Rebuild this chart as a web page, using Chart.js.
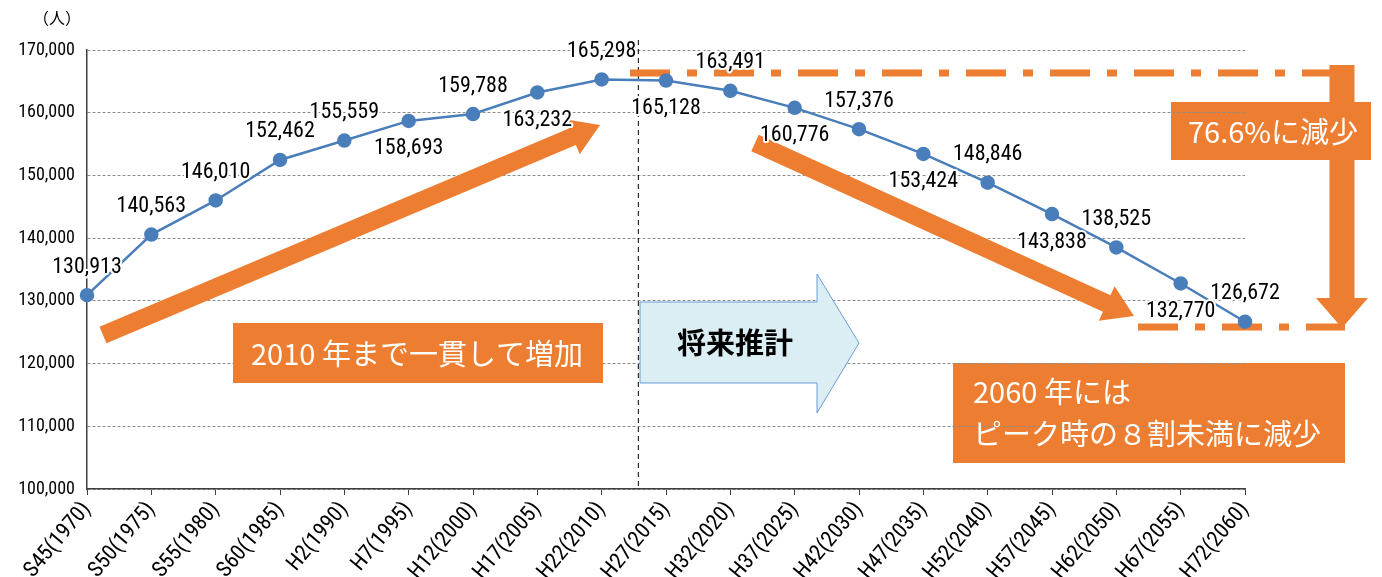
<!DOCTYPE html>
<html>
<head>
<meta charset="utf-8">
<script src="https://cdn.jsdelivr.net/npm/chart.js@4.4.0/dist/chart.umd.min.js"></script>
<style>
  html, body { margin: 0; padding: 0; background: #fff; }
  #wrap { width: 1382px; height: 577px; }
</style>
</head>
<body>
<div id="wrap"><canvas id="populationChart" width="1382" height="577"></canvas></div>
<script>
// Population trend and projection

const categories = [
  'S45(1970)', 'S50(1975)', 'S55(1980)', 'S60(1985)', 'H2(1990)', 'H7(1995)',
  'H12(2000)', 'H17(2005)', 'H22(2010)', 'H27(2015)', 'H32(2020)', 'H37(2025)',
  'H42(2030)', 'H47(2035)', 'H52(2040)', 'H57(2045)', 'H62(2050)', 'H67(2055)', 'H72(2060)'
];
const population = [
  130913, 140563, 146010, 152462, 155559, 158693,
  159788, 163232, 165298, 165128, 163491, 160776,
  157376, 153424, 148846, 143838, 138525, 132770, 126672
];
// where each value label sits: 1 = above the point, -1 = below
const labelSide = [1, 1, 1, 1, 1, -1, 1, -1, 1, -1, 1, -1, 1, -1, 1, -1, 1, -1, 1];
const yMin = 100000;
const yMax = 170000;
const yStep = 10000;

const colors = {
  line: '#4A7EBB',
  orange: '#ED7D31',
  lightBlue: '#DAEEF3',
  blueEdge: '#6C9BD6',
  grid: '#8C8C8C',
  axis: '#404040',
};

const numFont = "'Liberation Sans Narrow', 'Roboto Condensed', 'DejaVu Sans Condensed', sans-serif";
const jpFont = "'Noto Sans CJK JP', sans-serif";

function fmt(v) {
  return v.toLocaleString('en-US');
}

function arrow(ctx, x1, y1, x2, y2, shaft, headW, headL) {
  const ang = Math.atan2(y2 - y1, x2 - x1);
  const len = Math.hypot(x2 - x1, y2 - y1);
  ctx.save();
  ctx.translate(x1, y1);
  ctx.rotate(ang);
  ctx.beginPath();
  ctx.moveTo(0, -shaft / 2);
  ctx.lineTo(len - headL, -shaft / 2);
  ctx.lineTo(len - headL, -headW / 2);
  ctx.lineTo(len, 0);
  ctx.lineTo(len - headL, headW / 2);
  ctx.lineTo(len - headL, shaft / 2);
  ctx.lineTo(0, shaft / 2);
  ctx.closePath();
  ctx.restore();
}

// boxes drawn under the grid lines
const underGrid = {
  id: 'underGrid',
  beforeDraw(chart) {
    const ctx = chart.ctx;
    ctx.save();
    ctx.fillStyle = colors.orange;
    ctx.fillRect(1171, 102, 200, 58);
    ctx.fillRect(953, 363, 392, 100);
    ctx.restore();
  }
};

// arrows, boxes and dash-dot guide lines
const callouts = {
  id: 'callouts',
  beforeDatasetsDraw(chart) {
    const ctx = chart.ctx;
    const x = chart.scales.x;
    const area = chart.chartArea;
    ctx.save();

    // (人)
    ctx.fillStyle = '#000';
    ctx.font = '16px ' + jpFont;
    ctx.textAlign = 'center';
    ctx.textBaseline = 'middle';
    ctx.fillText('（人）', 57, 18);

    // boundary between actual and projected
    const bx = x.getPixelForValue(8.57);
    ctx.strokeStyle = '#000';
    ctx.lineWidth = 1;
    ctx.setLineDash([5, 4]);
    ctx.beginPath();
    ctx.moveTo(bx, 40);
    ctx.lineTo(bx, area.bottom);
    ctx.stroke();

    // dash-dot guides
    ctx.strokeStyle = colors.orange;
    ctx.lineWidth = 7;
    ctx.setLineDash([40, 17, 10, 17]);
    ctx.beginPath();
    ctx.moveTo(630, 73);
    ctx.lineTo(1340, 73);
    ctx.moveTo(1138, 327);
    ctx.lineTo(1345, 327);
    ctx.stroke();
    ctx.setLineDash([]);

    ctx.fillStyle = colors.orange;
    arrow(ctx, 103, 335, 600, 125, 18, 38, 30);
    ctx.fill();
    arrow(ctx, 755, 143, 1134, 316, 18, 38, 30);
    ctx.fill();
    arrow(ctx, 1342, 65, 1342, 328, 25, 52, 30);
    ctx.fill();

    ctx.fillRect(233, 323, 370, 60);

    // projection arrow
    ctx.beginPath();
    ctx.moveTo(640, 302);
    ctx.lineTo(817, 302);
    ctx.lineTo(817, 274);
    ctx.lineTo(859, 343);
    ctx.lineTo(817, 413);
    ctx.lineTo(817, 383);
    ctx.lineTo(640, 383);
    ctx.closePath();
    ctx.fillStyle = colors.lightBlue;
    ctx.fill();
    ctx.strokeStyle = colors.blueEdge;
    ctx.lineWidth = 1;
    ctx.stroke();

    ctx.fillStyle = '#000';
    ctx.font = 'bold 29px ' + jpFont;
    ctx.textAlign = 'center';
    ctx.fillText('将来推計', 735, 343);

    ctx.fillStyle = '#fff';
    ctx.font = '29px ' + jpFont;
    ctx.textAlign = 'left';
    ctx.fillText('2010 年まで一貫して増加', 251, 354);
    ctx.fillText('76.6%に減少', 1188, 132);
    ctx.fillText('2060 年には', 973, 392);
    ctx.fillText('ピーク時の８割未満に減少', 973, 434);
    ctx.restore();
  }
};

// value labels above/below points
const valueLabels = {
  id: 'valueLabels',
  afterDatasetsDraw(chart) {
    const ctx = chart.ctx;
    const pts = chart.getDatasetMeta(0).data;
    ctx.save();
    ctx.font = '22px ' + numFont;
    ctx.textAlign = 'center';
    ctx.textBaseline = 'middle';
    ctx.lineJoin = 'round';
    pts.forEach((p, i) => {
      const ty = p.y - labelSide[i] * 28;
      const txt = fmt(population[i]);
      ctx.strokeStyle = '#fff';
      ctx.lineWidth = 4;
      ctx.strokeText(txt, p.x, ty);
      ctx.fillStyle = '#000';
      ctx.fillText(txt, p.x, ty);
    });
    ctx.restore();
  }
};

new Chart(document.getElementById('populationChart'), {
  type: 'line',
  data: {
    labels: categories,
    datasets: [{
      data: population,
      borderColor: colors.line,
      backgroundColor: colors.line,
      borderWidth: 2.5,
      pointRadius: 6,
      pointBackgroundColor: colors.line,
      pointBorderColor: colors.line,
      tension: 0,
    }]
  },
  options: {
    responsive: false,
    animation: false,
    layout: {
      padding: { top: 50, right: 137, left: 0, bottom: 0 }
    },
    plugins: {
      legend: { display: false },
      tooltip: { enabled: false }
    },
    scales: {
      x: {
        offset: false,
        afterFit(scale) { scale.height = 88; },
        grid: {
          display: true,
          drawOnChartArea: false,
          drawTicks: true,
          tickLength: 6,
          tickColor: colors.axis,
        },
        border: { color: colors.axis, width: 1.5 },
        ticks: {
          autoSkip: false,
          minRotation: 50,
          maxRotation: 50,
          padding: 2,
          color: '#000',
          font: { family: numFont, size: 22 }
        }
      },
      y: {
        min: yMin,
        max: yMax,
        afterFit(scale) { scale.width = 87; },
        grid: {
          color: colors.grid,
          lineWidth: 1,
          drawTicks: false,
        },
        border: { color: colors.axis, width: 1.5, dash: [3, 2] },
        ticks: {
          stepSize: yStep,
          padding: 12,
          color: '#000',
          font: { family: numFont, size: 18 },
          callback: function(value) {
            return fmt(value);
          }
        }
      }
    }
  },
  plugins: [underGrid, callouts, valueLabels]
});
</script>
</body>
</html>
